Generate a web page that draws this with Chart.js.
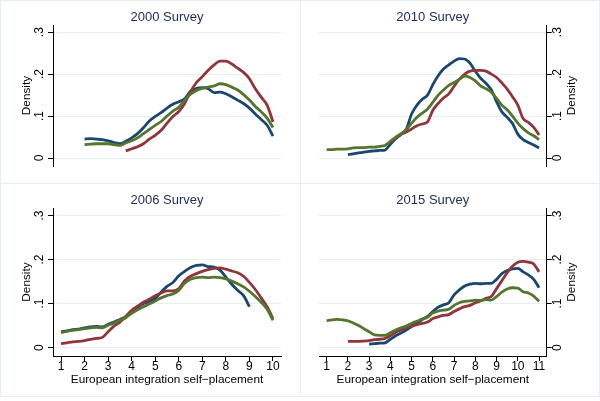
<!DOCTYPE html>
<html>
<head>
<meta charset="utf-8">
<script src="https://cdn.jsdelivr.net/npm/chart.js@4.4.0/dist/chart.umd.min.js"></script>
<style>
html, body { margin: 0; padding: 0; background: #fff; }
#wrap { position: relative; width: 600px; height: 401px; overflow: hidden; }
.frame { position: absolute; box-sizing: border-box; border: 1px solid #e6eff0; }
.panel { position: absolute; }
</style>
</head>
<body>
<div id="wrap">
  <div class="frame" style="left:0;top:0;width:301px;height:184px"></div>
  <div class="frame" style="left:300px;top:0;width:300px;height:184px"></div>
  <div class="frame" style="left:0;top:183px;width:301px;height:214px"></div>
  <div class="frame" style="left:300px;top:183px;width:300px;height:214px"></div>
  <div class="panel" style="left:0;top:0;width:300px;height:183px"><canvas id="p2000"></canvas></div>
  <div class="panel" style="left:300px;top:0;width:300px;height:183px"><canvas id="p2010"></canvas></div>
  <div class="panel" style="left:0;top:183px;width:300px;height:218px"><canvas id="p2006"></canvas></div>
  <div class="panel" style="left:300px;top:183px;width:300px;height:218px"><canvas id="p2015"></canvas></div>
</div>
<script>
// Evaluation points of the density curves (self-placement scale)
const xGrid10 = [1, 1.25, 1.5, 1.75, 2, 2.25, 2.5, 2.75, 3, 3.25, 3.5, 3.75, 4, 4.25, 4.5, 4.75,
  5, 5.25, 5.5, 5.75, 6, 6.25, 6.5, 6.75, 7, 7.25, 7.5, 7.75, 8, 8.25, 8.5, 8.75, 9, 9.25, 9.5, 9.75, 10];
const xGrid11 = [1, 1.25, 1.5, 1.75, 2, 2.25, 2.5, 2.75, 3, 3.25, 3.5, 3.75, 4, 4.25, 4.5, 4.75,
  5, 5.25, 5.5, 5.75, 6, 6.25, 6.5, 6.75, 7, 7.25, 7.5, 7.75, 8, 8.25, 8.5, 8.75, 9, 9.25, 9.5, 9.75,
  10, 10.25, 10.5, 10.75, 11];

// Tick labels
const xTicks10 = [1, 2, 3, 4, 5, 6, 7, 8, 9, 10];
const xTicks11 = [1, 2, 3, 4, 5, 6, 7, 8, 9, 10, 11];
const yTickValues = [0, 0.1, 0.2, 0.3];
const yTickLabels = ['0', '.1', '.2', '.3'];
const xTitle = 'European integration self\u2212placement';
const yTitle = 'Density';

// 2000 survey
const navy2000 = [null, null, null, null, .045, .046, .045, .044, .041, .037, .034, .040, .048, .058, .072, .088,
  .099, .108, .119, .128, .134, .141, .159, .166, .168, .165, .156, .157, .153, .146, .138, .130, .119, .105, .092, .078, .052];
const maroon2000 = [null, null, null, null, null, null, null, null, null, null, null, .017, .022, .027, .034, .045,
  .054, .066, .083, .099, .111, .130, .158, .180, .194, .209, .222, .231, .231, .224, .214, .204, .189, .165, .145, .126, .086];
const green2000 = [null, null, null, null, .032, .033, .034, .034, .034, .032, .030, .036, .041, .048, .058, .068,
  .078, .087, .100, .112, .121, .138, .152, .161, .166, .169, .172, .177, .175, .169, .162, .151, .138, .123, .110, .095, .073];

// 2010 survey
const navy2010 = [null, null, null, null, .008, .010, .012, .014, .016, .017, .018, .019, .033, .046, .057, .069,
  .105, .126, .140, .150, .175, .196, .212, .222, .231, .237, .236, .226, .207, .190, .178, .163, .134, .110, .097, .082,
  .057, .044, .037, .031, .024];
const maroon2010 = [null, null, null, null, null, null, null, null, null, null, null, null, .038, .047, .056, .062,
  .069, .077, .081, .086, .114, .130, .143, .153, .171, .188, .200, .207, .209, .209, .207, .200, .192, .179, .164, .146,
  .126, .094, .085, .073, .055];
const green2010 = [.020, .020, .021, .021, .022, .024, .025, .025, .026, .026, .028, .030, .040, .050, .058, .068,
  .083, .097, .107, .117, .133, .150, .162, .173, .180, .188, .195, .192, .184, .172, .165, .157, .142, .126, .115, .100,
  .083, .070, .060, .053, .044];

// 2006 survey
const navy2006 = [.036, .038, .041, .042, .045, .047, .048, .047, .053, .058, .064, .070, .083, .092, .100, .105,
  .112, .126, .139, .148, .163, .173, .182, .187, .188, .184, .183, .176, .160, .144, .130, .118, .093, null, null, null, null];
const maroon2006 = [.009, .011, .013, .014, .016, .019, .021, .023, .036, .049, .058, .071, .085, .094, .103, .110,
  .118, .124, .129, .129, .134, .152, .162, .168, .173, .177, .180, .181, .178, .174, .170, .162, .148, .132, .113, .093, .066];
const green2006 = [.034, .037, .039, .041, .043, .045, .046, .045, .051, .056, .062, .068, .078, .086, .093, .099,
  .106, .113, .118, .122, .130, .146, .155, .159, .160, .159, .160, .159, .156, .151, .145, .138, .128, .116, .103, .087, .062];

// 2015 survey
const navy2015 = [null, null, null, null, null, null, null, null, .008, .009, .010, .011, .019, .027, .033, .040,
  .048, .056, .064, .071, .082, .092, .097, .102, .120, .131, .140, .144, .146, .145, .146, .146, .155, .168, .175, .179,
  .180, .172, .165, .155, .136];
const maroon2015 = [null, null, null, null, .014, .014, .014, .015, .016, .018, .019, .021, .027, .035, .040, .045,
  .049, .052, .055, .058, .066, .070, .073, .075, .082, .088, .093, .096, .102, .106, .112, .116, .134, .152, .170, .185,
  .194, .196, .194, .190, .172];
const green2015 = [.061, .063, .064, .063, .061, .056, .050, .043, .036, .029, .028, .028, .034, .040, .045, .049,
  .055, .060, .065, .069, .079, .083, .085, .087, .096, .102, .105, .106, .108, .107, .109, .108, .116, .126, .133, .136,
  .135, .127, .124, .117, .105];

const NAVY = '#1a476f';
const MAROON = '#90353b';
const GREEN = '#55752f';
const GRID = '#e6eff0';
const TITLE_COLOR = '#23305e';
const FONT = '"Liberation Sans", Arial, sans-serif';

// Draws the Stata-style texts: panel title, rotated y labels, x labels
const stataText = {
    id: 'stataText',
    afterDraw(chart, args, opts) {
        const { ctx, chartArea: a, scales } = chart;
        ctx.save();
        ctx.textAlign = 'center';
        ctx.textBaseline = 'middle';

        ctx.font = '13px ' + FONT;
        ctx.fillStyle = TITLE_COLOR;
        ctx.fillText(opts.title, (a.left + a.right) / 2, 17);

        ctx.fillStyle = '#000';
        const onRight = opts.side === 'right';
        const tickX = onRight ? a.right + 10.5 : a.left - 13.5;
        const titleX = onRight ? a.right + 25 : a.left - 26.5;
        ctx.font = '12px ' + FONT;
        yTickValues.forEach((v, i) => {
            const py = scales.y.getPixelForValue(v);
            ctx.save();
            ctx.translate(tickX, py);
            ctx.rotate(-Math.PI / 2);
            ctx.fillText(yTickLabels[i], 0, 0);
            ctx.restore();
        });
        ctx.font = '11.8px ' + FONT;
        ctx.save();
        ctx.translate(titleX, (a.top + a.bottom) / 2);
        ctx.rotate(-Math.PI / 2);
        ctx.fillText(yTitle, 0, 0);
        ctx.restore();

        if (opts.showX) {
            ctx.font = '12px ' + FONT;
            scales.x.ticks.forEach(t => {
                ctx.fillText(String(t.value), scales.x.getPixelForValue(t.value), a.bottom + 11);
            });
            ctx.font = '11.8px ' + FONT;
            ctx.fillText(xTitle, (a.left + a.right) / 2, a.bottom + 23.5);
        }
        ctx.restore();
    }
};

const toPoints = (xs, ys) => xs.map((x, i) => ({ x, y: ys[i] })).filter(p => p.y !== null);

const makePanel = (id, title, xs, xTicks, xMin, xMax, navy, maroon, green, side, showX) => {
    const line = (data, color, order) => ({
        data: toPoints(xs, data),
        borderColor: color,
        borderWidth: 2.8,
        pointRadius: 0,
        fill: false,
        cubicInterpolationMode: 'monotone',
        order,
    });

    return new Chart(document.getElementById(id), {
        type: 'line',
        data: {
            datasets: [line(navy, NAVY, 3), line(maroon, MAROON, 2), line(green, GREEN, 1)],
        },
        options: {
            responsive: true,
            maintainAspectRatio: false,
            animation: false,
            events: [],
            layout: {
                padding: {
                    left: side === 'left' ? 47 : 19,
                    right: side === 'left' ? 19 : 47.3,
                    top: 25,
                    bottom: showX ? 39 : 11,
                },
            },
            plugins: {
                legend: { display: false },
                tooltip: { enabled: false },
                title: { display: false },
                stataText: { title, side, showX },
            },
            scales: {
                x: {
                    type: 'linear',
                    display: showX,
                    min: xMin,
                    max: xMax,
                    afterBuildTicks: s => { s.ticks = xTicks.map(v => ({ value: v })); },
                    afterFit: s => { s.height = 6; },
                    ticks: { display: false },
                    grid: { drawOnChartArea: false, drawTicks: true, tickLength: 5, tickColor: '#000' },
                    border: { display: true, color: '#000', width: 1 },
                },
                y: {
                    type: 'linear',
                    position: side,
                    min: -0.019,
                    max: 0.317,
                    afterBuildTicks: s => { s.ticks = yTickValues.map(v => ({ value: v })); },
                    afterFit: s => { s.width = 6; },
                    ticks: { display: false },
                    grid: { color: GRID, drawTicks: true, tickLength: 5, tickColor: '#000' },
                    border: { display: true, color: '#000', width: 1 },
                },
            },
        },
        plugins: [stataText],
    });
};

makePanel('p2000', '2000 Survey', xGrid10, xTicks10, 0.66, 10.34, navy2000, maroon2000, green2000, 'left', false);
makePanel('p2010', '2010 Survey', xGrid11, xTicks11, 0.64, 11.36, navy2010, maroon2010, green2010, 'right', false);
makePanel('p2006', '2006 Survey', xGrid10, xTicks10, 0.66, 10.34, navy2006, maroon2006, green2006, 'left', true);
makePanel('p2015', '2015 Survey', xGrid11, xTicks11, 0.64, 11.36, navy2015, maroon2015, green2015, 'right', true);
</script>
</body>
</html>
